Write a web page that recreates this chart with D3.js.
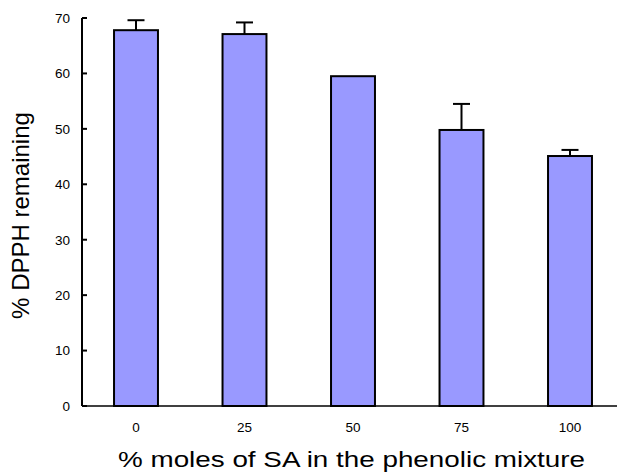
<!DOCTYPE html>
<html>
<head>
<meta charset="utf-8">
<script src="https://cdn.jsdelivr.net/npm/d3@7"></script>
<style>
  html, body { margin: 0; padding: 0; background: #fff; }
  svg { display: block; }
  text { font-family: Arial, "Liberation Sans", sans-serif; fill: #000; }
</style>
</head>
<body>
<svg id="chart" width="617" height="472"></svg>
<script>
// % SA in the phenolic mixture
const categories = ["0", "25", "50", "75", "100"];
// % DPPH remaining (mean) and upper error (SD)
const values = [67.8, 67.1, 59.5, 49.8, 45.1];
const errors = [1.8, 2.1, 0, 4.7, 1.1];
const yTicks = [0, 10, 20, 30, 40, 50, 60, 70];

const svg = d3.select("#chart");

const x = d3.scaleBand()
  .domain(categories)
  .range([81.75, 624.25])
  .paddingInner(0.595)
  .paddingOuter(0.2975);

const y = d3.scaleLinear()
  .domain([0, 70])
  .range([406, 18]);

const data = categories.map((c, i) => ({ cat: c, value: values[i], err: errors[i] }));

// bars
svg.append("g").selectAll("rect")
  .data(data)
  .join("rect")
  .attr("x", d => x(d.cat))
  .attr("y", d => y(d.value))
  .attr("width", x.bandwidth())
  .attr("height", d => y(0) - y(d.value))
  .attr("fill", "#9999ff")
  .attr("stroke", "#000")
  .attr("stroke-width", 2);

// upper error bars
const eb = svg.append("g").attr("stroke", "#000").attr("stroke-width", 2);
data.filter(d => d.err > 0).forEach(d => {
  const cx = x(d.cat) + x.bandwidth() / 2;
  eb.append("line")
    .attr("x1", cx).attr("x2", cx)
    .attr("y1", y(d.value)).attr("y2", y(d.value + d.err));
  eb.append("line")
    .attr("x1", cx - 8.5).attr("x2", cx + 8.5)
    .attr("y1", y(d.value + d.err)).attr("y2", y(d.value + d.err));
});

// y axis: inward ticks, labels on the left
const yAxis = svg.append("g");
yAxis.append("line")
  .attr("x1", 82).attr("x2", 82)
  .attr("y1", y(70)).attr("y2", y(0))
  .attr("stroke", "#000").attr("stroke-width", 2);
yAxis.selectAll("line.tick")
  .data(yTicks)
  .join("line")
  .attr("class", "tick")
  .attr("x1", 82).attr("x2", 87)
  .attr("y1", d => y(d)).attr("y2", d => y(d))
  .attr("stroke", "#000").attr("stroke-width", 2);
yAxis.selectAll("text")
  .data(yTicks)
  .join("text")
  .attr("x", 70)
  .attr("y", d => y(d))
  .attr("dy", "0.36em")
  .attr("text-anchor", "end")
  .attr("font-size", 13.5)
  .text(d => d);

// x axis baseline and category labels
svg.append("line")
  .attr("x1", 82).attr("x2", 617)
  .attr("y1", y(0)).attr("y2", y(0))
  .attr("stroke", "#000").attr("stroke-width", 1.5);
svg.append("g").selectAll("text")
  .data(categories)
  .join("text")
  .attr("x", d => x(d) + x.bandwidth() / 2)
  .attr("y", 431.5)
  .attr("text-anchor", "middle")
  .attr("font-size", 13.5)
  .text(d => d);

// axis titles
svg.append("text")
  .attr("x", 351.5)
  .attr("y", 467)
  .attr("text-anchor", "middle")
  .attr("font-size", 22.5)
  .attr("textLength", 467)
  .attr("lengthAdjust", "spacingAndGlyphs")
  .text("% moles of SA in the phenolic mixture");

svg.append("text")
  .attr("transform", "translate(29,215.5) rotate(-90)")
  .attr("text-anchor", "middle")
  .attr("font-size", 24)
  .text("% DPPH remaining");
</script>
</body>
</html>
